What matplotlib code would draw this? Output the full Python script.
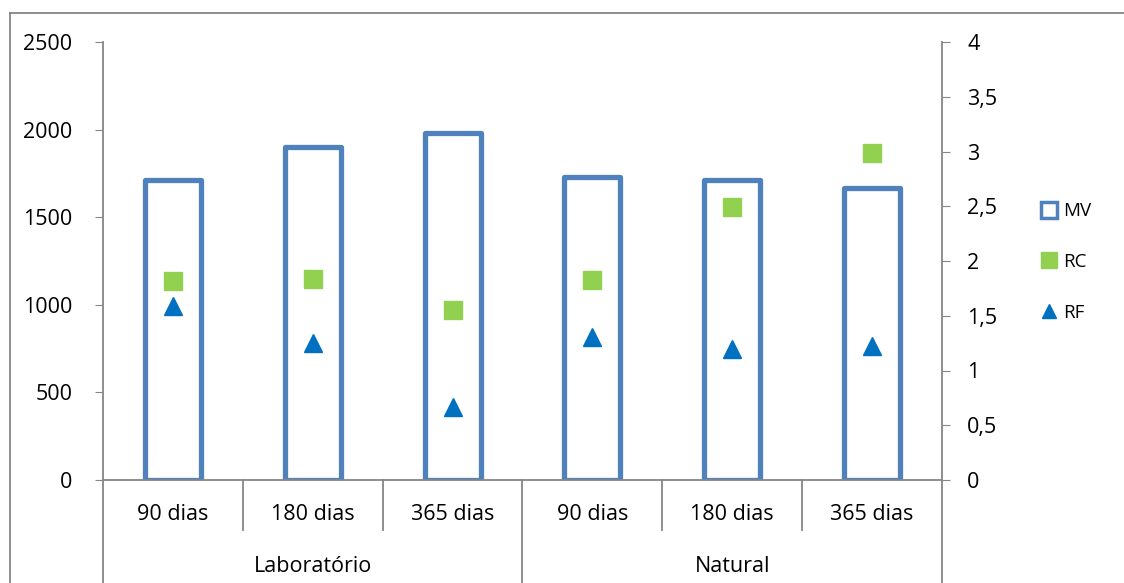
import matplotlib.pyplot as plt
from matplotlib.lines import Line2D
import numpy as np

plt.rcParams['font.family'] = ['Open Sans', 'DejaVu Sans']

groups = ["Laboratório", "Natural"]
periods = ["90 dias", "180 dias", "365 dias"]
mv = [1712, 1900, 1980, 1729, 1712, 1667]
rc = [1.82, 1.84, 1.55, 1.83, 2.49, 2.99]
rf = [1.59, 1.25, 0.67, 1.31, 1.20, 1.22]

mv_color = '#4F81BD'
rc_color = '#92D050'
rf_color = '#0070C0'
axis_gray = '#868686'

W, H = 1124, 583
fig = plt.figure(figsize=(W / 100, H / 100), dpi=100)

# plot area in pixels
x0, x1, y_top, y_bot = 103, 942, 42, 480
ax = fig.add_axes([x0 / W, 1 - y_bot / H, (x1 - x0) / W, (y_bot - y_top) / H])

xs = np.arange(len(mv))
ax.bar(xs, mv, width=0.4, fill=False, edgecolor=mv_color, linewidth=3.8,
       joinstyle='round', zorder=2)
ax.set_xlim(-0.5, len(mv) - 0.5)
ax.set_ylim(0, 2500)
ax.set_yticks(range(0, 2501, 500))
ax.tick_params(axis='y', direction='out', length=6, color=axis_gray,
               labelsize=15.5, pad=16)
ax.set_xticks([])
for s in ['top', 'right']:
    ax.spines[s].set_visible(False)
for s in ['left', 'bottom']:
    ax.spines[s].set_color(axis_gray)
    ax.spines[s].set_linewidth(1.3)

ax2 = ax.twinx()
ax2.set_ylim(0, 4)
ticks2 = np.arange(0, 4.01, 0.5)
ax2.set_yticks(ticks2)
ax2.set_yticklabels([f"{t:g}".replace('.', ',') for t in ticks2])
ax2.tick_params(axis='y', direction='out', length=6, color=axis_gray,
                labelsize=15.5, pad=12)
for s in ['top', 'left', 'bottom']:
    ax2.spines[s].set_visible(False)
ax2.spines['right'].set_color(axis_gray)
ax2.spines['right'].set_linewidth(1.3)
ax2.plot(xs, rc, 's', color=rc_color, markersize=13.5, linestyle='none', zorder=3)
ax2.plot(xs, rf, '^', color=rf_color, markersize=13, linestyle='none', zorder=3)

# two-level category axis
h_px = y_bot - y_top
trans = ax.get_xaxis_transform()
for b in [0.5, 1.5, 3.5, 4.5]:
    ax.plot([b, b], [0, -(530 - y_bot) / h_px], color=axis_gray, lw=1.3,
            transform=trans, clip_on=False)
for b in [-0.5, 2.5, 5.5]:
    ax.plot([b, b], [0, -(600 - y_bot) / h_px], color=axis_gray, lw=1.3,
            transform=trans, clip_on=False)
for i, x in enumerate(xs):
    ax.text(x, -(515 - y_bot) / h_px, periods[i % 3], transform=trans,
            ha='center', va='center', fontsize=15.5)
for g, name in enumerate(groups):
    ax.text(g * 3 + 1, -(566 - y_bot) / h_px, name, transform=trans,
            ha='center', va='center', fontsize=15.5)

# outer chart frame
fig.add_artist(Line2D([10 / W, 1], [1 - 13 / H, 1 - 13 / H], color=axis_gray, lw=1.3))
fig.add_artist(Line2D([10 / W, 10 / W], [0, 1 - 13 / H], color=axis_gray, lw=1.3))

handles = [
    Line2D([], [], marker='s', linestyle='none', markerfacecolor='white',
           markeredgecolor=mv_color, markeredgewidth=2.5, markersize=12),
    Line2D([], [], marker='s', linestyle='none', color=rc_color, markersize=11),
    Line2D([], [], marker='^', linestyle='none', color=rf_color, markersize=10),
]
fig.legend(handles, ["MV", "RC", "RF"], loc='center left',
           bbox_to_anchor=(1018 / W, 1 - 262 / H), frameon=False,
           fontsize=13.5, labelspacing=1.75, handletextpad=0.0, handlelength=1.5)

fig.savefig("out.png", dpi=100)
